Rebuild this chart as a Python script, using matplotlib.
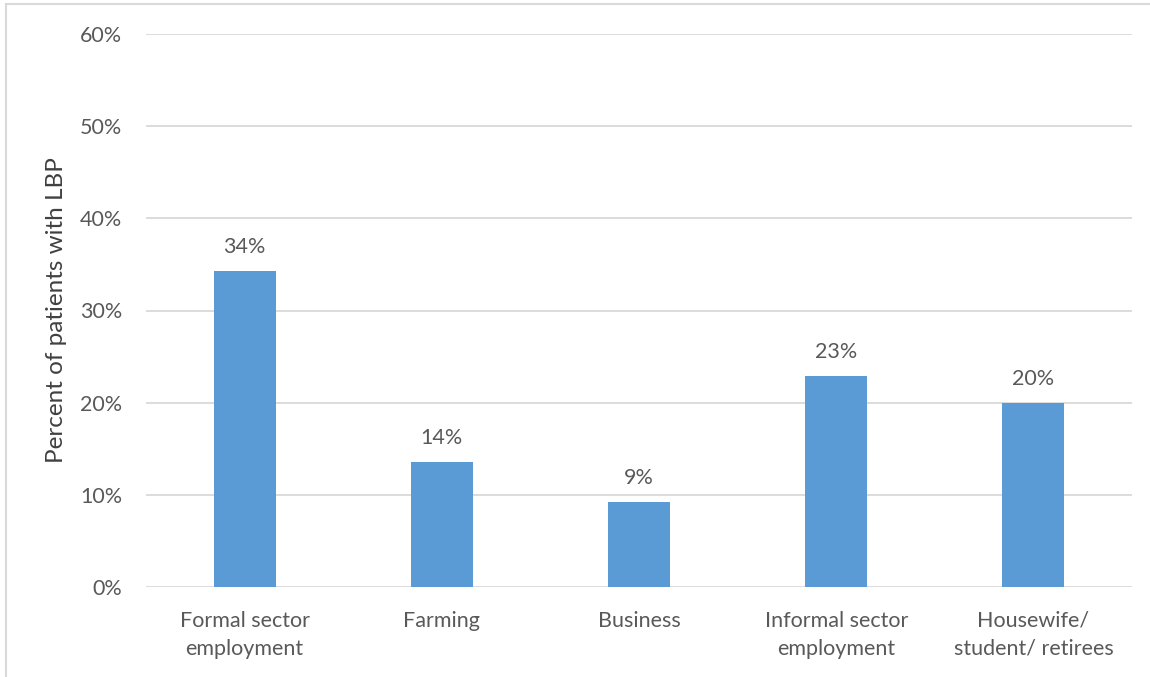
import matplotlib
matplotlib.use("Agg")
import matplotlib.pyplot as plt
from matplotlib.lines import Line2D
from matplotlib.ticker import FuncFormatter, MultipleLocator

categories = ["Formal sector\nemployment", "Farming", "Business",
              "Informal sector\nemployment", "Housewife/\nstudent/ retirees"]
percent_lbp = [34.3, 13.6, 9.2, 22.9, 20.0]

W, H = 1150, 677
fig = plt.figure(figsize=(W / 100, H / 100), dpi=100)
plt.rcParams["font.family"] = ["Lato", "DejaVu Sans"]

text_color = "#595959"
grid_color = "#d9d9d9"
bar_color = "#5b9bd5"
fs = 15.5

ax = fig.add_axes([146 / W, 1 - 587 / H, (1132 - 146) / W, (587 - 34) / H])

x = range(len(categories))
ax.bar(x, percent_lbp, width=0.315, color=bar_color, zorder=3)
for xi, v in zip(x, percent_lbp):
    ax.annotate(f"{v:.0f}%", (xi, v), xytext=(0, 10), textcoords="offset points",
                ha="center", va="bottom", fontsize=fs, color=text_color)

ax.set_xlim(-0.5, len(categories) - 0.5)
ax.set_ylim(0, 60)
ax.yaxis.set_major_locator(MultipleLocator(10))
ax.yaxis.set_major_formatter(FuncFormatter(lambda v, _: f"{v:.0f}%"))
ax.set_xticks(list(x))
ax.set_xticklabels(categories, fontsize=fs, color=text_color, linespacing=1.5)
ax.tick_params(axis="y", labelsize=fs, labelcolor=text_color, length=0, pad=17)
ax.tick_params(axis="x", length=0, pad=17)
ax.grid(axis="y", color=grid_color, linewidth=1.3, zorder=0)
for s in ax.spines.values():
    s.set_visible(False)
ax.set_ylabel("Percent of patients with LBP", fontsize=17.5, color="#404040")
ax.yaxis.set_label_coords(-0.080, 0.5)

# outer frame (top and left edges)
fig.add_artist(Line2D([6 / W, 1], [1 - 4 / H, 1 - 4 / H], color=grid_color, linewidth=1.5))
fig.add_artist(Line2D([6 / W, 6 / W], [0, 1 - 4 / H], color=grid_color, linewidth=1.5))

fig.savefig("out.png", dpi=100)
